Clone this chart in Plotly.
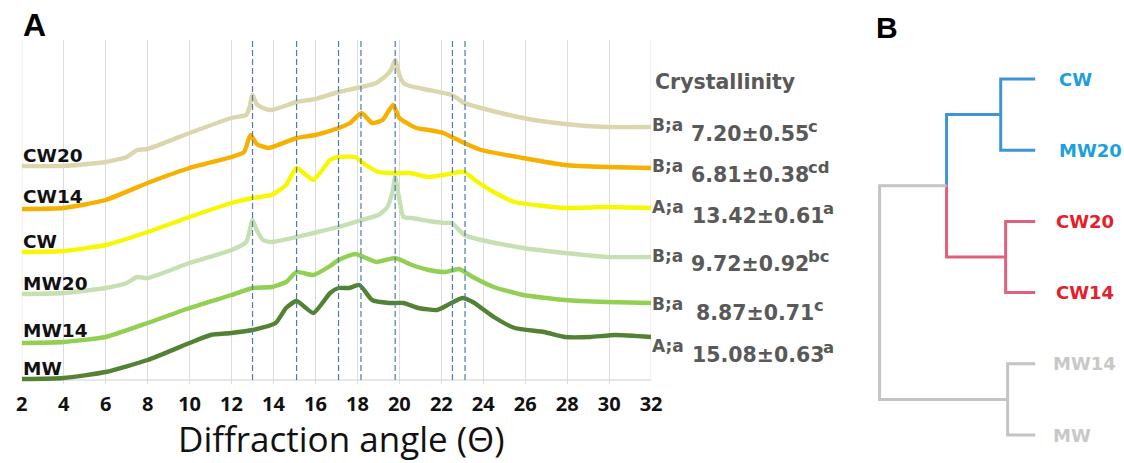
import plotly.graph_objects as go

W, H = 1124, 463

# ---------------- Panel A data (XRD curves; intensity in stacked arbitrary units) ----------------
x_cw20 = [2, 4, 6, 7, 7.5, 8, 10, 12, 12.7, 12.85, 13.0, 13.2, 13.5, 13.9, 15.1, 16, 17.1, 18.2, 18.9, 19.4, 19.6, 19.8, 20.0, 20.2, 20.5, 21.4, 22.5, 23.1, 23.9, 25.9, 27.9, 29.9, 32]
y_cw20 = [214, 214, 218, 223, 230, 231, 247, 262, 265, 272, 285, 276, 272, 270, 278, 281, 288, 293, 297, 305, 310, 320, 305, 297, 294, 290, 285, 277, 272, 262, 256, 253, 253]

x_cw14 = [2, 4, 6, 8, 10, 12, 12.6, 12.9, 13.2, 13.75, 15.1, 16, 17.1, 17.65, 18.2, 18.7, 19.2, 19.7, 20.0, 20.8, 21.4, 22.1, 22.5, 23.1, 23.9, 25.9, 27.9, 29.9, 32]
y_cw14 = [171, 172, 180, 197, 212, 223, 228, 245, 236, 232, 242, 245, 252, 257, 267, 257, 260, 275, 262, 252, 250, 247, 243, 237, 230, 222, 215, 213, 212]

x_cw = [2, 4, 6, 8, 10, 12, 13, 13.9, 14.6, 15.1, 15.9, 16.7, 17.1, 17.9, 18.2, 19.0, 19.8, 20.5, 21.4, 22.1, 22.85, 23.1, 23.6, 24.5, 25.5, 27.9, 29.9, 32]
y_cw = [128, 129, 135, 148, 163, 177, 182, 185, 195, 212, 200, 220, 223, 223, 218, 208, 207, 207, 203, 205, 208, 208, 200, 188, 178, 172, 173, 172]

x_mw20 = [2, 4, 6, 7, 7.5, 8, 10, 12, 12.7, 13.0, 13.2, 13.5, 13.9, 15.1, 15.9, 17.1, 18.2, 19.0, 19.4, 19.65, 19.8, 19.95, 20.2, 20.6, 21.4, 22.2, 22.5, 23.1, 23.9, 25.9, 27.9, 29.9, 32]
y_mw20 = [86, 87, 92, 97, 103, 102, 117, 130, 138, 160, 150, 140, 138, 143, 147, 153, 160, 165, 172, 186, 203, 186, 163, 162, 159, 157, 157, 145, 140, 132, 127, 123, 123]

x_mw14 = [2, 4, 6, 8, 10, 12, 13, 13.9, 14.6, 15.1, 15.9, 16.7, 17.1, 17.9, 18.9, 19.8, 20.6, 21.4, 22.2, 22.85, 23.5, 24.5, 25.9, 27.9, 29.9, 32]
y_mw14 = [37, 38, 43, 57, 72, 85, 92, 93, 98, 108, 105, 114, 120, 126, 118, 122, 115, 110, 108, 111, 103, 93, 85, 80, 78, 77]

x_mw = [2, 4, 6, 8, 10, 11, 12, 13, 14.1, 14.6, 15.1, 15.9, 16.7, 17.1, 17.6, 18.1, 18.7, 19.5, 20.2, 20.9, 21.8, 22.3, 23.0, 23.5, 24.5, 25.5, 26.9, 27.9, 29.1, 30.3, 32]
y_mw = [1, 2, 8, 20, 37, 45, 47, 50, 57, 72, 79, 67, 87, 92, 92, 95, 80, 77, 77, 72, 70, 75, 82, 78, 63, 52, 48, 43, 43, 45, 43]

series_names = ["CW20", "CW14", "CW", "MW20", "MW14", "MW"]
series_x = [x_cw20, x_cw14, x_cw, x_mw20, x_mw14, x_mw]
series_y = [y_cw20, y_cw14, y_cw, y_mw20, y_mw14, y_mw]
series_colors = ["#dbd6ad", "#f5b000", "#f7f700", "#c6e0b4", "#92cf52", "#548235"]

peak_positions = [13.0, 15.1, 17.1, 18.17, 19.8, 22.53, 23.13]
x_ticks = list(range(2, 33, 2))

cryst_prefix = ["B;a", "B;a", "A;a", "B;a", "B;a", "A;a"]
cryst_value = ["7.20±0.55", "6.81±0.38", "13.42±0.61", "9.72±0.92", "8.87±0.71", "15.08±0.63"]
cryst_letter = ["c", "cd", "a", "bc", "c", "a"]

# ---------------- Panel B data (dendrogram) ----------------
leaf_labels = ["CW", "MW20", "CW20", "CW14", "MW14", "MW"]
leaf_colors = ["#1e9fdc", "#1e9fdc", "#e3202b", "#e3202b", "#c8c8c8", "#c8c8c8"]
pair_heights = [3.5, 3.0, 2.8]      # (CW,MW20), (CW20,CW14), (MW14,MW)
upper_height = 9.0                  # merge of the first two pairs
root_height = 15.8                  # root merge
branch_colors = ["#3d95d6", "#e0607c", "#c4c4c4"]
root_color = "#c4c4c4"

fig = go.Figure()

# ---- Panel A traces
for name, xs, ys, c in zip(series_names, series_x, series_y, series_colors):
    fig.add_trace(go.Scatter(x=xs, y=ys, mode="lines", name=name,
                             line=dict(color=c, width=4.4, shape="spline", smoothing=0.5),
                             xaxis="x", yaxis="y", showlegend=False, hoverinfo="skip"))

shapes = []
for gx in (x_ticks[0], x_ticks[-1]):
    shapes.append(dict(type="line", xref="x", yref="y domain", x0=gx, x1=gx, y0=0.0116, y1=1,
                       line=dict(color="#dcdcdc", width=1), layer="below"))
for p in peak_positions:
    shapes.append(dict(type="line", xref="x", yref="y domain", x0=p, x1=p, y0=0.0116, y1=1,
                       line=dict(color="#4a7bb7", width=1.2, dash="6px,3px"), layer="above"))
shapes.append(dict(type="line", xref="x", yref="y", x0=2, x1=32, y0=0, y1=0,
                   line=dict(color="#d0d0d0", width=1.2), layer="below"))

# ---- Panel B traces (dendrogram)
def seg(xs, ys, color):
    fig.add_trace(go.Scatter(x=xs, y=ys, mode="lines", line=dict(color=color, width=3),
                             xaxis="x2", yaxis="y2", showlegend=False, hoverinfo="skip"))

pair_y = []
for k, h in enumerate(pair_heights):
    i, j = 2 * k, 2 * k + 1
    seg([0, h, h, 0], [i, i, j, j], branch_colors[k])
    pair_y.append((i + j) / 2)

upper_y = (pair_y[0] + pair_y[1]) / 2
seg([pair_heights[0], upper_height, upper_height], [pair_y[0], pair_y[0], upper_y], branch_colors[0])
seg([pair_heights[1], upper_height, upper_height], [pair_y[1], pair_y[1], upper_y], branch_colors[1])
seg([upper_height, root_height, root_height, pair_heights[2]],
    [upper_y, upper_y, pair_y[2], pair_y[2]], root_color)

# ---- annotations
def px(xp):
    return xp / W

def py(yp):
    return 1 - yp / H

# DejaVu Sans Bold advance widths (em) for width estimates of the crystallinity values
EM = {".": 0.381, "±": 0.838}

def text_w(s, size):
    return sum(EM.get(ch, 0.696) for ch in s) * size

ann = []
ann.append(dict(text="<b>A</b>", x=px(15), y=py(25), xref="paper", yref="paper", xanchor="left",
                yanchor="middle", showarrow=False, font=dict(family="Liberation Sans", size=32, color="#000")))
ann.append(dict(text="<b>B</b>", x=px(881), y=py(27), xref="paper", yref="paper", xanchor="left",
                yanchor="middle", showarrow=False, font=dict(family="Liberation Sans", size=30, color="#000")))

label_y = [155, 197, 241.5, 283.5, 330.5, 368.5]
for name, ly in zip(series_names, label_y):
    ann.append(dict(text="<b>%s</b>" % name, x=px(15), y=py(ly), xref="paper", yref="paper",
                    xanchor="left", yanchor="middle", showarrow=False,
                    font=dict(family="DejaVu Sans", size=18.5, color="#111")))

gray = "#595959"
ann.append(dict(text="<b>Crystallinity</b>", x=px(657), y=py(82), xref="paper", yref="paper",
                xanchor="left", yanchor="middle", showarrow=False,
                font=dict(family="DejaVu Sans", size=20.5, color=gray)))
prefix_y = [125, 166, 207.5, 255.5, 304, 346]
value_x = [693, 693, 694, 693, 699, 694]
VAL_SIZE = 20.5
for k in range(6):
    ann.append(dict(text="<b>%s</b>" % cryst_prefix[k], x=px(654), y=py(prefix_y[k]), xref="paper",
                    yref="paper", xanchor="left", yanchor="middle", showarrow=False,
                    font=dict(family="DejaVu Sans", size=17, color=gray)))
    ann.append(dict(text="<b>%s</b>" % cryst_value[k], x=px(value_x[k]), y=py(prefix_y[k] + 8.5),
                    xref="paper", yref="paper", xanchor="left", yanchor="middle", showarrow=False,
                    font=dict(family="DejaVu Sans", size=VAL_SIZE, color=gray)))
    sx = value_x[k] + text_w(cryst_value[k], VAL_SIZE) + 1
    ann.append(dict(text="<b>%s</b>" % cryst_letter[k], x=px(sx), y=py(prefix_y[k] + 1),
                    xref="paper", yref="paper", xanchor="left", yanchor="middle", showarrow=False,
                    font=dict(family="DejaVu Sans", size=16.5, color=gray)))

ann.append(dict(text="Diffraction angle (Θ)", x=px(341), y=0, xref="paper", yref="paper",
                xanchor="center", yanchor="bottom", showarrow=False, borderpad=0,
                font=dict(family="Open Sans", size=35, color="#111")))

leaf_shift = [22, 22, 19, 19, 16, 16]
for i, (lab, c) in enumerate(zip(leaf_labels, leaf_colors)):
    ann.append(dict(text="<b>%s</b>" % lab, x=0, y=i, xref="x2", yref="y2", xanchor="left",
                    yanchor="middle", xshift=leaf_shift[i], showarrow=False,
                    font=dict(family="DejaVu Sans", size=18, color=c)))

# leaf px mapping for dendrogram: leaf 0 at y=79px, spacing 71.2px
y2_top = (0 - 79) / 71.2
y2_bot = (H - 79) / 71.2

fig.update_layout(
    width=W, height=H, margin=dict(l=0, r=0, t=0, b=0),
    paper_bgcolor="white", plot_bgcolor="white",
    xaxis=dict(domain=[16 / W, 655 / W], range=[2, 32], tickvals=x_ticks,
               showgrid=True, gridcolor="#dcdcdc", gridwidth=1, zeroline=False, showline=False,
               ticks="", ticklabelstandoff=6,
               tickfont=dict(family="Open Sans", size=20, color="#111", weight="bold"),
               anchor="y", fixedrange=True),
    yaxis=dict(domain=[(H - 384) / H, (H - 40) / H], range=[-4, 340], showgrid=False,
               zeroline=False, showticklabels=False, anchor="x", fixedrange=True),
    xaxis2=dict(domain=[870 / W, 1.0], range=[17.5, -7.9], visible=False, anchor="y2", fixedrange=True),
    yaxis2=dict(domain=[0, 1], range=[y2_bot, y2_top], visible=False, anchor="x2", fixedrange=True),
    shapes=shapes, annotations=ann,
)

fig.write_html("out.html")
